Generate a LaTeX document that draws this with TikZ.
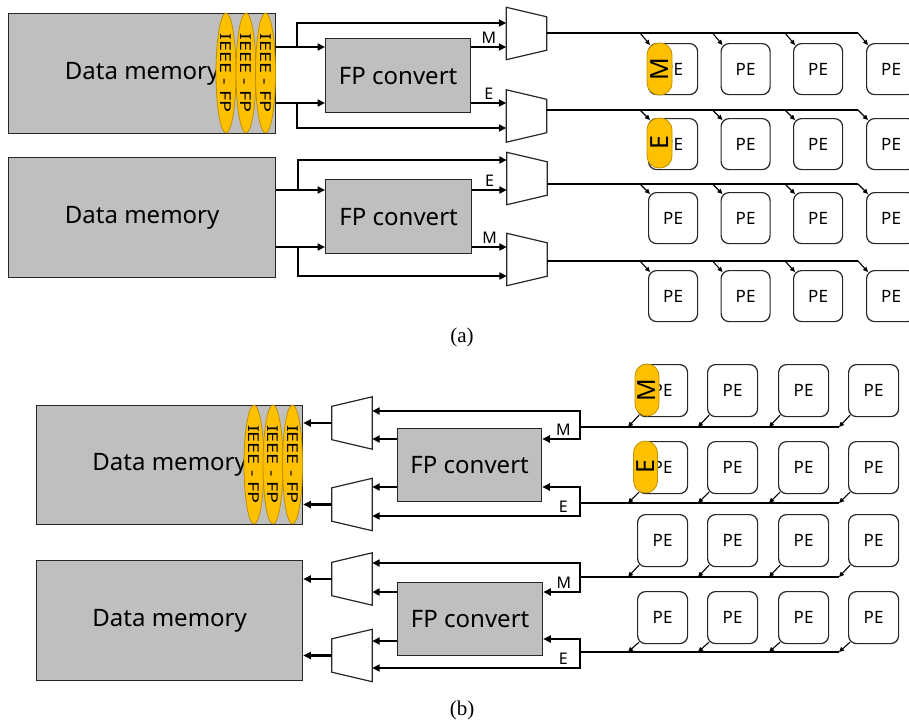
\documentclass[tikz,border=0pt]{standalone}
\usepackage{fontspec}
\setmainfont{Noto Sans}
\newfontfamily\capfont{Liberation Serif}
\usetikzlibrary{arrows.meta,shapes.geometric,calc}

\definecolor{memgray}{HTML}{BFBFBF}
\definecolor{edge}{HTML}{262626}
\definecolor{pillfill}{HTML}{FFC000}
\definecolor{pilledge}{HTML}{BF9000}

\tikzset{
  mem/.style={draw=edge, line width=1.3pt, fill=memgray, minimum width=267pt,
    minimum height=120pt, inner sep=0pt, anchor=north west,
    font=\fontsize{24}{28}\selectfont},
  conv/.style={mem, minimum width=145pt, minimum height=74pt},
  muxbox/.style={minimum width=40pt, minimum height=52pt, inner sep=0pt},
  muxline/.style={draw=edge, line width=1.2pt, fill=white, line join=miter},
  pe/.style={draw=edge, line width=1.2pt, fill=white, rounded corners=8pt,
    minimum width=49pt, minimum height=51pt, inner sep=0pt, anchor=north west,
    font=\fontsize{17}{20}\selectfont},
  pill/.style={draw=pilledge, line width=0.8pt, fill=pillfill, rounded corners=12pt,
    minimum width=52pt, minimum height=25pt, inner sep=0pt,
    font=\fontsize{25}{28}\selectfont, rotate=90},
  oval/.style={ellipse, draw=pilledge, line width=0.8pt, fill=pillfill,
    minimum width=20pt, minimum height=120pt, inner sep=0pt},
  ovtext/.style={rotate=-90, inner sep=0pt, font=\fontsize{15}{18}\selectfont},
  bus/.style={line width=2.2pt, -{Triangle[length=7.5pt,width=7pt]}},
  wire/.style={line width=2.2pt},
  tap/.style={line width=1.1pt, -{Triangle[length=5pt,width=4.5pt]}},
  lbl/.style={font=\fontsize{16}{18}\selectfont, inner sep=2pt},
  captext/.style={font=\capfont\fontsize{21}{24}\selectfont}
}

% wide-set label for the format converters in memory
\newcommand\fmtlabel{\scalebox{1.32}[1]{IEEE - FP}}

% multiplexer, wide side on the left
\newcommand\muxwide[2]{%
  \node[muxbox] (#1) at #2 {};
  \path[muxline] (#1.north west) -- ([yshift=-9.5pt]#1.north east)
    -- ([yshift=9.5pt]#1.south east) -- (#1.south west) -- cycle;}
% multiplexer, wide side on the right
\newcommand\muxnarrow[2]{%
  \node[muxbox] (#1) at #2 {};
  \path[muxline] ([yshift=-9.5pt]#1.north west) -- (#1.north east)
    -- (#1.south east) -- ([yshift=9.5pt]#1.south west) -- cycle;}

\begin{document}
\begin{tikzpicture}[x=1pt,y=-1pt]
\useasboundingbox (0,0) rectangle (909,726);
\clip (0,0) rectangle (909,726);

% ---------------- (a) memory to PE array ----------------
\node[mem] (dmA1) at (8,13) {Data memory};
\node[mem] (dmA2) at (8,157) {Data memory};
\foreach \i/\x in {1/226,2/246,3/265.5}{
  \node[oval] (ovA\i) at (\x,73) {};
  \node[ovtext] at (ovA\i) {\fmtlabel};
}
\node[conv] (fpA1) at (325,38) {FP convert};
\node[conv, minimum width=146pt] (fpA2) at (325,179) {FP convert};
\muxwide{muxA1}{(526.5,33.5)}
\muxwide{muxA2}{(526.5,116)}
\muxwide{muxA3}{(527,178.5)}
\muxwide{muxA4}{(527,259.5)}

% upper converter
\coordinate (yA1m) at (0,47);
\coordinate (yA1e) at (0,103);
\coordinate (kA1t) at (297,23);
\coordinate (kA1b) at (297,128);
\draw[bus] (dmA1.east |- yA1m) -- (fpA1.west |- yA1m);
\draw[bus] (kA1t |- yA1m) -- (kA1t) -- (muxA1.west |- kA1t);
\draw[bus] (dmA1.east |- yA1e) -- (fpA1.west |- yA1e);
\draw[bus] (kA1b |- yA1e) -- (kA1b) -- (muxA2.west |- kA1b);
\draw[bus] (fpA1.east |- yA1m) -- node[lbl, above]{M} (muxA1.west |- yA1m);
\draw[bus] (fpA1.east |- yA1e) -- node[lbl, above]{E} (muxA2.west |- yA1e);

% lower converter
\coordinate (yA2e) at (0,190);
\coordinate (yA2m) at (0,247);
\coordinate (kA2t) at (298,160);
\coordinate (kA2b) at (298,276);
\draw[bus] (dmA2.east |- yA2e) -- (fpA2.west |- yA2e);
\draw[bus] (kA2t |- yA2e) -- (kA2t) -- (muxA3.west |- kA2t);
\draw[bus] (dmA2.east |- yA2m) -- (fpA2.west |- yA2m);
\draw[bus] (kA2b |- yA2m) -- (kA2b) -- (muxA4.west |- kA2b);
\draw[bus] (fpA2.east |- yA2e) -- node[lbl, above]{E} (muxA3.west |- yA2e);
\draw[bus] (fpA2.east |- yA2m) -- node[lbl, above]{M} (muxA4.west |- yA2m);

% PE array fed from the multiplexers
\foreach \r/\ly/\ty/\mx in {1/33/43/muxA1, 2/110/118/muxA2, 3/184/192/muxA3, 4/261/270/muxA4}{
  \coordinate (rA\r) at (858,\ly);
  \draw[wire] (\mx.east |- rA\r) -- (rA\r);
  \foreach \c/\x in {1/648,2/720.5,3/793,4/866}{
    \node[pe] (peA-\r-\c) at (\x,\ty) {PE};
    \draw[tap] ($(peA-\r-\c.north west |- rA\r)+(-8,0)$) -- ($(peA-\r-\c.north west)+(2,2)$);
  }
}
\node[pill] (pillAM) at (659.5,69) {M};
\node[pill, minimum width=50pt] (pillAE) at (659.5,143) {E};

\node[captext] (capA) at (462,337) {(a)};

% ---------------- (b) PE array to memory ----------------
\node[mem, minimum width=266pt, minimum height=119pt] (dmB1) at (36,405) {Data memory};
\node[mem, minimum width=266pt] (dmB2) at (36,560) {Data memory};
\foreach \i/\x in {1/254,2/273,3/292.5}{
  \node[oval, minimum height=119pt] (ovB\i) at (\x,464.5) {};
  \node[ovtext] at (ovB\i) {\fmtlabel};
}
\node[conv, minimum width=144pt, minimum height=73pt] (fpB1) at (397,428) {FP convert};
\node[conv, minimum height=73pt] (fpB2) at (397,582) {FP convert};
\muxnarrow{muxB1}{(352,423)}
\muxnarrow{muxB2}{(352,504.5)}
\muxnarrow{muxB3}{(352,579)}
\muxnarrow{muxB4}{(352,655.5)}

% multiplexers into memory
\draw[bus] (muxB1.west) -- (dmB1.east |- muxB1.west);
\draw[bus] (muxB2.west) -- (dmB1.east |- muxB2.west);
\draw[bus] (muxB3.west) -- (dmB2.east |- muxB3.west);
\draw[bus] (muxB4.west) -- (dmB2.east |- muxB4.west);

% converters into multiplexers
\coordinate (yB1m) at (0,439);
\coordinate (yB1e) at (0,487);
\coordinate (yB2m) at (0,592);
\coordinate (yB2e) at (0,641);
\draw[bus] (fpB1.west |- yB1m) -- (muxB1.east |- yB1m);
\draw[bus] (fpB1.west |- yB1e) -- (muxB2.east |- yB1e);
\draw[bus] (fpB2.west |- yB2m) -- (muxB3.east |- yB2m);
\draw[bus] (fpB2.west |- yB2e) -- (muxB4.east |- yB2e);

% PE rows
\foreach \r/\ty/\ly in {1/364/427,2/441/503,3/514/577,4/591/652}{
  \coordinate (rB\r) at (839,\ly);
  \foreach \c/\x in {1/637,2/707,3/778,4/848}{
    \node[pe, minimum width=50pt, minimum height=52pt] (peB-\r-\c) at (\x,\ty) {PE};
    \draw[tap] ($(peB-\r-\c.south west)+(2,-2)$) -- ($(peB-\r-\c.south west |- rB\r)+(-9,0)$);
  }
}
\node[pill, minimum height=24pt] (pillBM) at (647,390) {M};
\node[pill, minimum height=24pt] (pillBE) at (645.5,467) {E};

% row buses split to converter and bypass
\coordinate (kB1mt) at (580,411);
\coordinate (kB1mb) at (580,439);
\coordinate (kB1et) at (580,487);
\coordinate (kB1eb) at (580,516);
\coordinate (kB2mt) at (580,563);
\coordinate (kB2mb) at (580,592);
\coordinate (kB2et) at (580,639);
\coordinate (kB2eb) at (580,668);

\draw[wire] (rB1) -- (kB1mt |- rB1);
\draw[bus] (kB1mt |- rB1) -- (kB1mt) -- (muxB1.east |- kB1mt);
\draw[bus] (kB1mt |- rB1) -- (kB1mb) -- node[lbl, above, pos=0.44]{M} (fpB1.east |- kB1mb);

\draw[wire] (rB2) -- (kB1et |- rB2);
\draw[bus] (kB1et |- rB2) -- (kB1et) -- (fpB1.east |- kB1et);
\draw[bus] (kB1et |- rB2) -- (kB1eb) -- node[lbl, above, pos=0.08]{E} (muxB2.east |- kB1eb);

\draw[wire] (rB3) -- (kB2mt |- rB3);
\draw[bus] (kB2mt |- rB3) -- (kB2mt) -- (muxB3.east |- kB2mt);
\draw[bus] (kB2mt |- rB3) -- (kB2mb) -- node[lbl, above, pos=0.44]{M} (fpB2.east |- kB2mb);

\draw[wire] (rB4) -- (kB2et |- rB4);
\draw[bus] (kB2et |- rB4) -- (kB2et) -- (fpB2.east |- kB2et);
\draw[bus] (kB2et |- rB4) -- (kB2eb) -- node[lbl, above, pos=0.08]{E} (muxB4.east |- kB2eb);

\node[captext] (capB) at (462,710) {(b)};
\end{tikzpicture}
\end{document}
